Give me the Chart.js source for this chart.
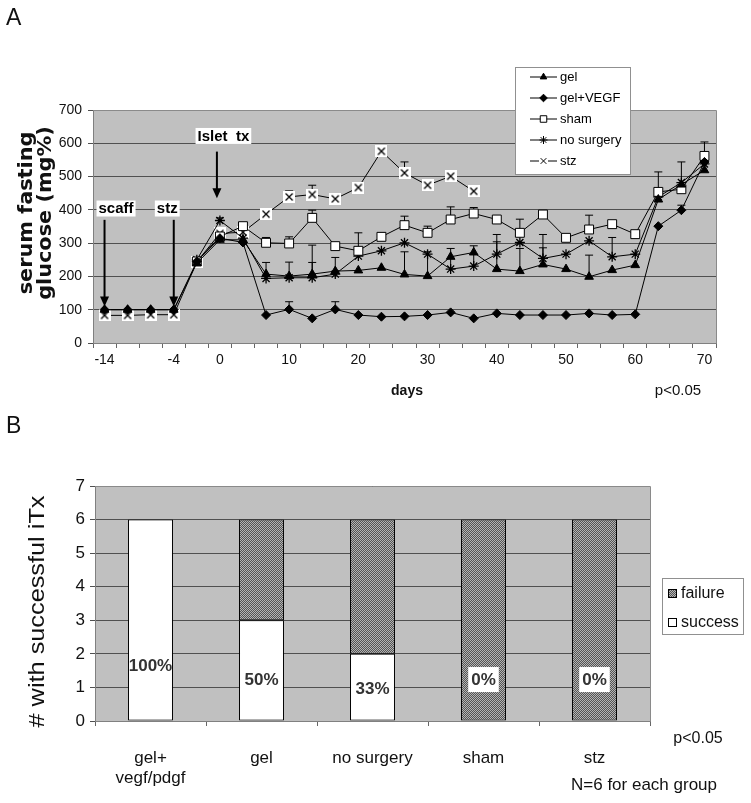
<!DOCTYPE html>
<html><head><meta charset="utf-8">
<script src="https://cdn.jsdelivr.net/npm/chart.js@4.4.1/dist/chart.umd.min.js"></script>
<style>
html,body{margin:0;padding:0;background:#fff;}
#wrap{position:relative;width:751px;height:803px;overflow:hidden;background:#fff;}
#c1{position:absolute;left:0;top:0;}
#c2{position:absolute;left:0;top:405px;}
</style></head><body>
<div id="wrap">
<canvas id="c1" width="751" height="405"></canvas>
<canvas id="c2" width="751" height="398"></canvas>
</div>
<script>
// ---------- Panel A data ----------
const days = [-14,-11,-7,-4,-2,0,3,7,10,13,17,20,23,27,30,33,37,40,43,47,50,53,57,60,63,67,70];
const shownDays = [-14,-4,0,10,20,30,40,50,60,70];
const yTicksA = [0,100,200,300,400,500,600,700];
const gel      = [100,100,100,100,240,310,310,207,201,207,216,218,226,206,201,259,272,222,216,236,222,199,219,234,431,476,519];
const gelVEGF  = [100,100,100,100,245,315,302,84,101,74,101,84,79,80,84,92,74,89,84,84,84,89,84,86,351,399,544];
const sham     = [null,null,null,null,245,320,351,301,299,376,291,277,319,354,331,371,389,371,331,386,316,341,357,327,454,462,562];
const noSurg   = [null,null,null,null,250,368,315,194,196,196,207,261,277,301,267,222,231,267,302,254,267,307,259,267,439,482,538];
const stz      = [83,83,85,85,244,329,333,387,439,446,433,467,576,511,474,501,456,null,null,null,null,null,null,null,null,null,null];
// upper error bars
const gelErr     = [null,null,null,null,null,null,null,null,null,35,null,null,null,68,73,null,null,82,68,50,null,65,null,null,null,null,null];
const gelVEGFErr = [null,null,null,null,null,null,null,null,23,null,23,null,null,null,null,null,null,null,null,null,null,null,null,null,null,15,null];
const shamErr    = [null,null,null,null,null,null,null,16,20,23,null,null,12,27,20,38,18,null,41,null,null,43,null,null,60,82,42];
const noSurgErr  = [null,null,null,null,null,8,null,48,47,98,50,70,null,null,null,62,61,59,null,72,null,null,58,null,null,null,null];
const stzErr     = [null,null,null,null,null,null,null,null,18,28,14,null,13,33,null,null,null,null,null,null,null,null,null,null,null,null,null];
const seriesNames = ['gel','gel+VEGF','sham','no surgery','stz'];

// ---------- Panel B data ----------
const groups = [['gel+','vegf/pdgf'],'gel','no surgery','sham','stz'];
const success = [6,3,2,0,0];
const failure = [0,3,4,6,6];
const pctLabels = ['100%','50%','33%','0%','0%'];
const yTicksB = [0,1,2,3,4,5,6,7];

const FONT = "'Liberation Sans', Arial, sans-serif";

function xSprite(){
  const c=document.createElement('canvas'); c.width=12; c.height=12;
  const g=c.getContext('2d'); g.fillStyle='#fff'; g.fillRect(0,0,12,12);
  g.strokeStyle='#000'; g.lineWidth=1.3; g.beginPath();
  g.moveTo(2.5,2.5); g.lineTo(9.5,9.5); g.moveTo(9.5,2.5); g.lineTo(2.5,9.5); g.stroke();
  return c;
}
const stzMarker = xSprite();

const styles = [
  {pointStyle:'triangle', pointRadius:5, pointBackgroundColor:'#000'},
  {pointStyle:'rectRot', pointRadius:4.5, pointBackgroundColor:'#000'},
  {pointStyle:'rect', pointRadius:6.3, pointBackgroundColor:'#fff'},
  {pointStyle:'star', pointRadius:5, pointBackgroundColor:'#000', pointBorderWidth:1.3},
  {pointStyle:stzMarker, pointRadius:6, pointBackgroundColor:'#fff'}
];
const seriesData = [gel, gelVEGF, sham, noSurg, stz];
const seriesErr = [gelErr, gelVEGFErr, shamErr, noSurgErr, stzErr];

function arrow(ctx, x, y0, y1){
  ctx.save(); ctx.strokeStyle='#000'; ctx.fillStyle='#000'; ctx.lineWidth=2;
  ctx.beginPath(); ctx.moveTo(x,y0); ctx.lineTo(x,y1-8); ctx.stroke();
  ctx.beginPath(); ctx.moveTo(x-4.5,y1-10); ctx.lineTo(x+4.5,y1-10); ctx.lineTo(x,y1); ctx.closePath(); ctx.fill();
  ctx.restore();
}
function boxLabel(ctx, text, cx, cy, font){
  ctx.save(); ctx.font=font; const w=ctx.measureText(text).width;
  ctx.fillStyle='#fff'; ctx.fillRect(cx-w/2-2, cy-8, w+4, 16);
  ctx.fillStyle='#000'; ctx.textAlign='center'; ctx.textBaseline='middle'; ctx.fillText(text,cx,cy+0.5);
  ctx.restore();
}
function vText(ctx, lines, cy, baselines, font, stretch){
  ctx.save(); ctx.translate(0, cy); ctx.rotate(-Math.PI/2); ctx.scale(stretch,1);
  ctx.font=font; ctx.fillStyle='#111'; ctx.textAlign='center'; ctx.textBaseline='alphabetic';
  lines.forEach((t,i)=>ctx.fillText(t,0,baselines[i]));
  ctx.restore();
}

const panelA = {
  id:'panelA',
  beforeDraw(chart){
    const {ctx, chartArea:a} = chart;
    ctx.save(); ctx.fillStyle='#c0c0c0'; ctx.fillRect(a.left,a.top,a.right-a.left,a.bottom-a.top); ctx.restore();
  },
  beforeDatasetsDraw(chart){
    const ctx=chart.ctx, ys=chart.scales.y;
    ctx.save(); ctx.strokeStyle='#000'; ctx.lineWidth=1;
    chart.data.datasets.forEach((ds,i)=>{
      const meta=chart.getDatasetMeta(i); const err=seriesErr[i];
      err.forEach((e,j)=>{
        if(e==null || ds.data[j]==null) return;
        const p=meta.data[j]; const yt=ys.getPixelForValue(ds.data[j]+e);
        ctx.beginPath(); ctx.moveTo(p.x,p.y); ctx.lineTo(p.x,yt);
        ctx.moveTo(p.x-4,yt); ctx.lineTo(p.x+4,yt); ctx.stroke();
      });
    });
    ctx.restore();
  },
  afterDraw(chart){
    const {ctx, chartArea:a} = chart; const xs=chart.scales.x, ys=chart.scales.y;
    ctx.save();
    ctx.strokeStyle='#8a8a8a'; ctx.lineWidth=1;
    ctx.beginPath(); ctx.moveTo(a.left,a.top+0.5); ctx.lineTo(a.right+0.5,a.top+0.5); ctx.lineTo(a.right+0.5,a.bottom); ctx.stroke();
    // annotations
    const bf = "bold 15px "+FONT;
    const x0=xs.getPixelForValue(0), x3=xs.getPixelForValue(3), x5=xs.getPixelForValue(5);
    arrow(ctx, x0, ys.getPixelForValue(370), ys.getPixelForValue(110));
    arrow(ctx, x3, ys.getPixelForValue(370), ys.getPixelForValue(110));
    arrow(ctx, x5-3, ys.getPixelForValue(575), ys.getPixelForValue(435));
    boxLabel(ctx,'scaff', x0+11.5, ys.getPixelForValue(404), bf);
    boxLabel(ctx,'stz', x3-6.5, ys.getPixelForValue(404), bf);
    boxLabel(ctx,'Islet  tx', x5+3.5, ys.getPixelForValue(622), bf);
    // legend
    ctx.fillStyle='#fff'; ctx.fillRect(515,67,115,107);
    ctx.strokeStyle='#909090'; ctx.strokeRect(515.5,67.5,115,107);
    ctx.font="13px "+FONT; ctx.textBaseline='middle'; ctx.textAlign='left';
    const ly=[77,98,119,140,161];
    seriesNames.forEach((n,i)=>{
      ctx.strokeStyle='#000'; ctx.lineWidth=1;
      ctx.beginPath(); ctx.moveTo(530,ly[i]); ctx.lineTo(557,ly[i]); ctx.stroke();
      const st = styles[i];
      if(i===4){
        ctx.fillStyle='#fff'; ctx.fillRect(539,ly[i]-4,9,9);
        Chart.helpers.drawPoint(ctx,{pointStyle:'crossRot',radius:4,borderWidth:1},543.5,ly[i]);
      } else {
        ctx.fillStyle=st.pointBackgroundColor; ctx.strokeStyle='#000'; ctx.lineWidth=1;
        Chart.helpers.drawPoint(ctx,{pointStyle:st.pointStyle,radius:i===2?4.6:(i===3?4:3.8),borderWidth:1},543.5,ly[i]);
      }
      ctx.fillStyle='#000'; ctx.fillText(n,560,ly[i]+0.5);
    });
    // texts
    vText(ctx, ['serum fasting','glucose (mg%)'], 213, [32,50.5], "bold 20px 'DejaVu Sans', sans-serif", 1.04);
    ctx.fillStyle='#111'; ctx.textBaseline='middle';
    ctx.font="bold 14px "+FONT; ctx.textAlign='center'; ctx.fillText('days',407,391);
    ctx.font="15px "+FONT; ctx.fillText('p<0.05',678,391);
    ctx.font="23px "+FONT; ctx.textAlign='left'; ctx.textBaseline='alphabetic'; ctx.fillText('A',6,25);
    ctx.restore();
  }
};

new Chart(document.getElementById('c1'), {
  type:'line',
  data:{
    labels: days.map(String),
    datasets: seriesNames.map((n,i)=>Object.assign({
      label:n, data:seriesData[i], borderColor:'#000', borderWidth:1,
      pointBorderColor:'#000', pointBorderWidth:1, tension:0, spanGaps:false
    }, styles[i]))
  },
  options:{
    responsive:false, animation:false,
    layout:{padding:{left:0,right:35,top:110,bottom:0}},
    plugins:{legend:{display:false}, tooltip:{enabled:false}},
    scales:{
      x:{ type:'category', offset:true,
        grid:{offset:true, drawOnChartArea:false, tickLength:5, color:'#666'},
        border:{color:'#808080'},
        ticks:{autoSkip:false, maxRotation:0, minRotation:0, padding:4, color:'#111',
          font:{family:FONT,size:14},
          callback:(v,i)=> shownDays.includes(days[i]) ? String(days[i]) : ''},
        afterFit:s=>{s.height=62;}
      },
      y:{ min:0, max:700,
        afterBuildTicks:s=>{s.ticks=yTicksA.map(v=>({value:v}));},
        grid:{color:'#505050', tickLength:5, lineWidth:1},
        border:{color:'#808080'},
        ticks:{padding:6, color:'#111', font:{family:FONT,size:14}},
        title:{display:false, text:'serum fasting glucose (mg%)'},
        afterFit:s=>{s.width=93;}
      }
    }
  },
  plugins:[panelA]
});

// ---------- Panel B ----------
function hatch(){
  const c=document.createElement('canvas'); c.width=4; c.height=4;
  const g=c.getContext('2d'); g.fillStyle='#b4b4b4'; g.fillRect(0,0,4,4);
  g.fillStyle='#545454';
  for(let y=0;y<4;y++) for(let x=0;x<4;x++) if((x+y)%2===0) g.fillRect(x,y,1,1);
  return c;
}
const hatchPattern = document.getElementById('c2').getContext('2d').createPattern(hatch(),'repeat');
const pctAt = [1.67,1.25,0.98,1.25,1.25];

const panelB = {
  id:'panelB',
  beforeDraw(chart){
    const {ctx, chartArea:a} = chart;
    ctx.save(); ctx.fillStyle='#c0c0c0'; ctx.fillRect(a.left,a.top,a.right-a.left,a.bottom-a.top); ctx.restore();
  },
  afterDraw(chart){
    const {ctx, chartArea:a} = chart; const ys=chart.scales.y;
    ctx.save();
    ctx.strokeStyle='#8a8a8a'; ctx.lineWidth=1;
    ctx.beginPath(); ctx.moveTo(a.left,a.top+0.5); ctx.lineTo(a.right+0.5,a.top+0.5); ctx.lineTo(a.right+0.5,a.bottom); ctx.stroke();
    const meta=chart.getDatasetMeta(0);
    ctx.font="bold 17px "+FONT; ctx.textAlign='center'; ctx.textBaseline='middle';
    pctLabels.forEach((t,i)=>{
      const x=meta.data[i].x, y=ys.getPixelForValue(pctAt[i]);
      if(success[i]===0){
        const w=ctx.measureText(t).width;
        ctx.fillStyle='#fff'; ctx.fillRect(x-w/2-3,y-12,w+6,25);
      }
      ctx.fillStyle='#333'; ctx.fillText(t,x,y+1);
    });
    // legend
    ctx.fillStyle='#fff'; ctx.fillRect(662,173,81,56);
    ctx.strokeStyle='#909090'; ctx.strokeRect(662.5,173.5,81,56);
    ctx.fillStyle=hatchPattern; ctx.fillRect(668,184,9,9);
    ctx.strokeStyle='#000'; ctx.strokeRect(668.5,184.5,8,8);
    ctx.fillStyle='#fff'; ctx.fillRect(668,213,9,9); ctx.strokeRect(668.5,213.5,8,8);
    ctx.fillStyle='#111'; ctx.font="16px "+FONT; ctx.textAlign='left';
    ctx.fillText('failure',681,189); ctx.fillText('success',681,218);
    ctx.textAlign='center'; ctx.font="16px "+FONT; ctx.fillText('p<0.05',698,334);
    ctx.font="17px "+FONT; ctx.fillText('N=6 for each group',644,380);
    vText(ctx, ['# with successful iTx'], 206.5, [43.5], "22px "+FONT, 1.15);
    ctx.font="23px "+FONT; ctx.fillStyle='#111'; ctx.textAlign='left'; ctx.textBaseline='alphabetic'; ctx.fillText('B',6,28);
    ctx.restore();
  }
};

new Chart(document.getElementById('c2'), {
  type:'bar',
  data:{
    labels: groups,
    datasets:[
      {label:'success', data:success, backgroundColor:'#fff', borderColor:'#000', borderWidth:1, borderSkipped:false},
      {label:'failure', data:failure, backgroundColor:hatchPattern, borderColor:'#000', borderWidth:1, borderSkipped:false}
    ]
  },
  options:{
    responsive:false, animation:false,
    datasets:{bar:{barPercentage:0.405, categoryPercentage:1.0}},
    layout:{padding:{left:0,right:101,top:81,bottom:0}},
    plugins:{legend:{display:false}, tooltip:{enabled:false}},
    scales:{
      x:{ stacked:true, offset:true,
        grid:{offset:true, drawOnChartArea:false, tickLength:5, color:'#666'},
        border:{color:'#808080'},
        ticks:{autoSkip:false, maxRotation:0, padding:22, color:'#111', font:{family:FONT,size:17}},
        afterFit:s=>{s.height=82;}
      },
      y:{ stacked:true, min:0, max:7,
        afterBuildTicks:s=>{s.ticks=yTicksB.map(v=>({value:v}));},
        grid:{color:'#505050', tickLength:5},
        border:{color:'#808080'},
        ticks:{padding:5, color:'#111', font:{family:FONT,size:17}},
        title:{display:false, text:'# with successful iTx'},
        afterFit:s=>{s.width=95;}
      }
    }
  },
  plugins:[panelB]
});
</script>
</body></html>
